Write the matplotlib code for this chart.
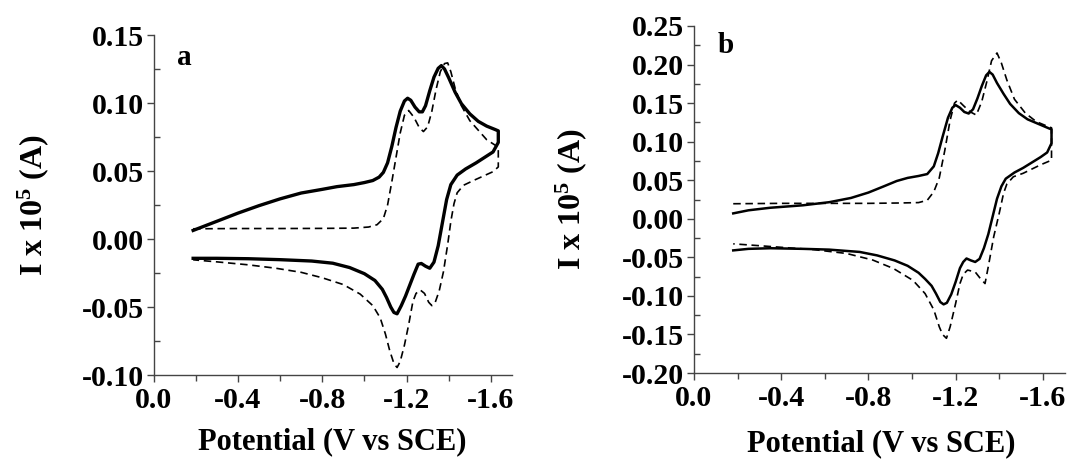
import numpy as np
import matplotlib
matplotlib.use('Agg')
import matplotlib.pyplot as plt

plt.rcParams['font.family'] = 'Liberation Serif'
plt.rcParams['font.weight'] = 'bold'
plt.rcParams['mathtext.fontset'] = 'custom'
plt.rcParams['mathtext.rm'] = 'Liberation Serif:bold'
plt.rcParams['mathtext.bf'] = 'Liberation Serif:bold'

# ---- panel a: solid = first scan, dashed = second scan (potential in V, current x 1e5 A)
a_solid_x = [-0.188, -0.30, -0.40, -0.50, -0.60, -0.70, -0.80, -0.87, -0.95, -1.00, -1.04, -1.07,
             -1.09, -1.11, -1.13, -1.15, -1.17, -1.19, -1.205, -1.22, -1.24, -1.26, -1.275, -1.29,
             -1.31, -1.33, -1.35, -1.365, -1.38, -1.40, -1.43, -1.46, -1.50, -1.54, -1.58, -1.62,
             -1.635,
             -1.635, -1.61, -1.58, -1.53, -1.48, -1.44, -1.41, -1.39, -1.37, -1.35, -1.33, -1.31,
             -1.29, -1.27, -1.255, -1.235, -1.215, -1.195, -1.175, -1.155, -1.14, -1.125, -1.105,
             -1.085, -1.05, -1.00, -0.93, -0.85, -0.75, -0.60, -0.45, -0.30, -0.188]
a_solid_y = [0.0063, 0.0130, 0.0190, 0.0245, 0.0295, 0.0338, 0.0365, 0.0385, 0.0400, 0.0415, 0.0430,
             0.0455, 0.0490, 0.0560, 0.0680, 0.0820, 0.0940, 0.1015, 0.1035, 0.1020, 0.0970, 0.0935,
             0.0935, 0.0980, 0.1090, 0.1190, 0.1255, 0.1275, 0.1250, 0.1185, 0.1080, 0.0995, 0.0920,
             0.0865, 0.0830, 0.0805, 0.0795,
             0.0710, 0.0640, 0.0610, 0.0560, 0.0515, 0.0470, 0.0400, 0.0290, 0.0120, -0.0050,
             -0.0170, -0.0215, -0.0200, -0.0180, -0.0185, -0.0260, -0.0340, -0.0420, -0.0490,
             -0.0550, -0.0540, -0.0500, -0.0430, -0.0370, -0.0305, -0.0255, -0.0210, -0.0178,
             -0.0162, -0.0152, -0.0145, -0.0142, -0.0142]

a_dash_x = [-0.188, -0.40, -0.60, -0.80, -0.95, -1.02, -1.06, -1.09, -1.11, -1.13, -1.15, -1.17,
            -1.19, -1.21, -1.235, -1.26, -1.28, -1.30, -1.32, -1.34, -1.36, -1.38, -1.395, -1.41,
            -1.43, -1.46, -1.50, -1.54, -1.58, -1.62, -1.635,
            -1.635, -1.61, -1.56, -1.52, -1.47, -1.44, -1.425, -1.41, -1.395, -1.375, -1.355,
            -1.335, -1.32, -1.305, -1.285, -1.265, -1.245, -1.23, -1.21, -1.19, -1.17, -1.155,
            -1.14, -1.12, -1.10, -1.075, -1.04, -0.98, -0.90, -0.80, -0.70, -0.58, -0.45, -0.30,
            -0.188]
a_dash_y = [0.0075, 0.0077, 0.0077, 0.0078, 0.0080, 0.0088, 0.0105, 0.0150, 0.0250, 0.0420, 0.0600,
            0.0780, 0.0910, 0.0945, 0.0895, 0.0820, 0.0790, 0.0825, 0.0940, 0.1100, 0.1230, 0.1290,
            0.1295, 0.1230, 0.1110, 0.0980, 0.0870, 0.0800, 0.0730, 0.0690, 0.0680,
            0.0530, 0.0495, 0.0460, 0.0432, 0.0395, 0.0340, 0.0260, 0.0130, -0.0040, -0.0240,
            -0.0380, -0.0470, -0.0490, -0.0465, -0.0400, -0.0375, -0.0400, -0.0460, -0.0630,
            -0.0780, -0.0900, -0.0945, -0.0915, -0.0820, -0.0700, -0.0580, -0.0490, -0.0405,
            -0.0335, -0.0285, -0.0245, -0.0215, -0.0190, -0.0168, -0.0153]

# ---- panel b
b_solid_x = [-0.18, -0.25, -0.35, -0.50, -0.62, -0.72, -0.80, -0.87, -0.93, -0.98, -1.03, -1.07,
             -1.10, -1.12, -1.14, -1.165, -1.185, -1.20, -1.22, -1.24, -1.26, -1.28, -1.30, -1.32,
             -1.34, -1.355, -1.37, -1.39, -1.42, -1.45, -1.49, -1.53, -1.58, -1.63, -1.64,
             -1.64, -1.62, -1.59, -1.55, -1.51, -1.47, -1.43, -1.41, -1.39, -1.37, -1.35, -1.33,
             -1.31, -1.29, -1.27, -1.25, -1.235, -1.22, -1.20, -1.18, -1.16, -1.145, -1.13, -1.11,
             -1.09, -1.06, -1.03, -0.98, -0.92, -0.84, -0.76, -0.62, -0.50, -0.35, -0.25, -0.18]
b_solid_y = [0.0070, 0.0110, 0.0143, 0.0175, 0.0215, 0.0270, 0.0340, 0.0420, 0.0490, 0.0530, 0.0555,
             0.0580, 0.0680, 0.0850, 0.1060, 0.1310, 0.1440, 0.1475, 0.1440, 0.1385, 0.1365, 0.1420,
             0.1560, 0.1720, 0.1860, 0.1905, 0.1870, 0.1760, 0.1620, 0.1490, 0.1370, 0.1290, 0.1230,
             0.1170, 0.1160,
             0.0980, 0.0860, 0.0800, 0.0730, 0.0660, 0.0600, 0.0520, 0.0420, 0.0260, 0.0030,
             -0.0200, -0.0380, -0.0520, -0.0560, -0.0540, -0.0515, -0.0560, -0.0640, -0.0820,
             -0.0980, -0.1090, -0.1110, -0.1080, -0.0970, -0.0870, -0.0780, -0.0700, -0.0610,
             -0.0540, -0.0475, -0.0430, -0.0400, -0.0390, -0.0382, -0.0390, -0.0410]

b_dash_x = [-0.18, -0.40, -0.60, -0.80, -0.95, -1.03, -1.07, -1.10, -1.125, -1.15, -1.175, -1.195,
            -1.21, -1.235, -1.265, -1.295, -1.32, -1.345, -1.365, -1.39, -1.41, -1.435, -1.47,
            -1.52, -1.57, -1.625, -1.64,
            -1.64, -1.59, -1.51, -1.465, -1.435, -1.42, -1.40, -1.375, -1.35, -1.335, -1.315,
            -1.29, -1.255, -1.235, -1.22, -1.20, -1.175, -1.158, -1.14, -1.125, -1.10, -1.06,
            -1.005, -0.915, -0.82, -0.70, -0.55, -0.40, -0.28, -0.18]
b_dash_y = [0.0195, 0.0200, 0.0200, 0.0200, 0.0205, 0.0210, 0.0240, 0.0350, 0.0530, 0.0880, 0.1280,
            0.1500, 0.1540, 0.1470, 0.1390, 0.1345, 0.1520, 0.1800, 0.2050, 0.2150, 0.2020, 0.1800,
            0.1550, 0.1370, 0.1260, 0.1195, 0.1180,
            0.0760, 0.0700, 0.0590, 0.0545, 0.0450, 0.0330, 0.0070, -0.0230, -0.0620, -0.0840,
            -0.0780, -0.0690, -0.0665, -0.0720, -0.0840, -0.1100, -0.1400, -0.1550, -0.1500,
            -0.1400, -0.1180, -0.0970, -0.0800, -0.0645, -0.0535, -0.0450, -0.0400, -0.0370,
            -0.0345, -0.0325]

a_yticks = [-0.10, -0.05, 0.00, 0.05, 0.10, 0.15]
b_yticks = [-0.20, -0.15, -0.10, -0.05, 0.00, 0.05, 0.10, 0.15, 0.20, 0.25]
xticks = [0.0, -0.4, -0.8, -1.2, -1.6]

W, H = 1070, 462
fig = plt.figure(figsize=(W / 100, H / 100), dpi=100)
axa = fig.add_axes([153.5 / W, (H - 375) / H, 358.5 / W, 340 / H])
axb = fig.add_axes([694 / W, (H - 373) / H, 370.6 / W, 347 / H])

dash_style = (0, (4.5, 2.8))
axa.plot(a_solid_x, a_solid_y, color='black', lw=2.4, solid_joinstyle='round')
axa.plot(a_dash_x, a_dash_y, color='black', lw=1.2, linestyle=dash_style)
axb.plot(b_solid_x, b_solid_y, color='black', lw=1.8, solid_joinstyle='round')
axb.plot(b_dash_x, b_dash_y, color='black', lw=1.2, linestyle=dash_style)

for ax, yt, lim, lab, ly in [(axa, a_yticks, (-0.10, 0.15), 'a', 0.935),
                             (axb, b_yticks, (-0.20, 0.25), 'b', 0.945)]:
    ax.set_xlim(0, -1.7)
    ax.set_ylim(*lim)
    ax.set_xticks(xticks)
    ax.set_xticks(np.arange(0, -1.75, -0.2), minor=True)
    ax.set_xticklabels(['%.1f' % v for v in xticks])
    ax.set_yticks(yt)
    ax.set_yticks(np.arange(lim[0], lim[1] + 0.001, 0.025), minor=True)
    ax.set_yticklabels(['%.2f' % v for v in yt])
    for s in ['top', 'right']:
        ax.spines[s].set_visible(False)
    for s in ['left', 'bottom']:
        ax.spines[s].set_color('#444444')
        ax.spines[s].set_linewidth(1.0)
    ax.tick_params(axis='both', which='major', labelsize=21.5, length=5, width=1.0,
                   color='#444444', pad=2)
    ax.tick_params(axis='x', which='major', pad=4)
    ax.tick_params(axis='x', which='minor', length=4, width=1.0, color='#444444', direction='out')
    ax.tick_params(axis='y', which='minor', length=4, width=1.0, color='#444444', direction='in')
    for t in ax.get_xticklabels() + ax.get_yticklabels():
        t.set_fontweight('bold')
    ax.set_xlabel('Potential (V vs SCE)', fontsize=22, fontweight='bold')
    ax.set_ylabel(r'I x $\mathbf{10^{5}}$ (A)', fontsize=23, fontweight='bold')
    ax.text(0.085, ly, lab, transform=ax.transAxes, fontsize=21, fontweight='bold',
            ha='center', va='center')

axa.xaxis.set_label_coords(0.50, -0.155)
axa.yaxis.set_label_coords(-0.287, 0.5)
axb.xaxis.set_label_coords(0.505, -0.162)
axb.yaxis.set_label_coords(-0.283, 0.5)

fig.savefig('out.png', dpi=100)
